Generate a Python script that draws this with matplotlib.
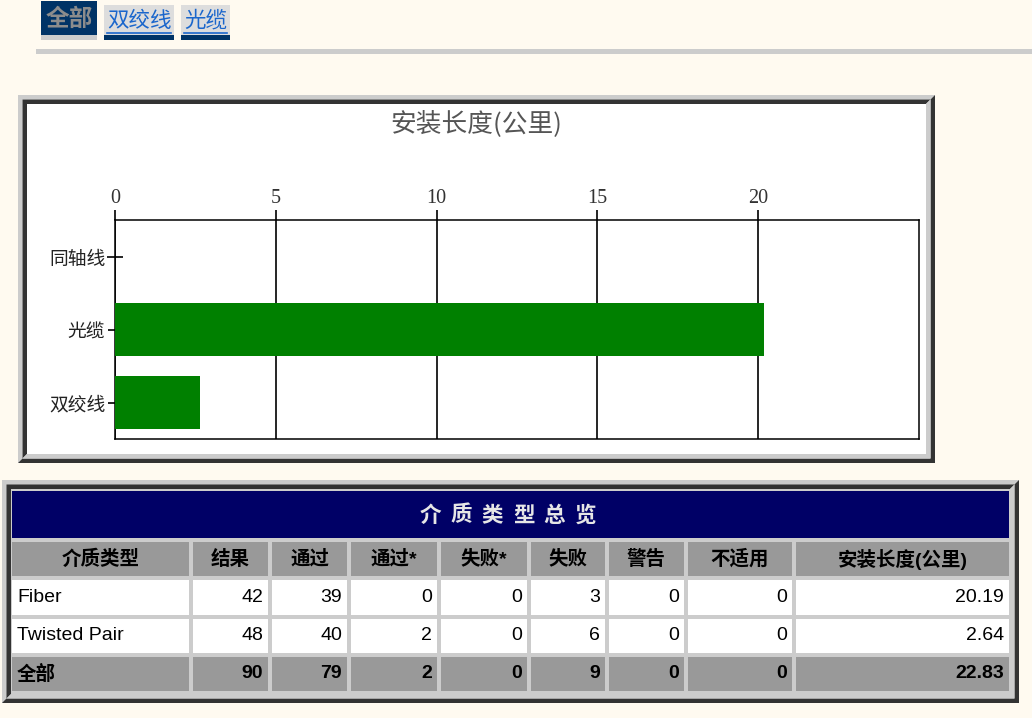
import matplotlib.pyplot as plt
from matplotlib.patches import Rectangle, Polygon

# chart data
chart_labels = ['双绞线', '光缆', '同轴线']
chart_values = [2.64, 20.19, 0.0]
chart_title = '安装长度(公里)'

# table data
table_title = '介质类型总览'
columns = ['介质类型', '结果', '通过', '通过*', '失败*', '失败', '警告', '不适用', '安装长度(公里)']
media = ['Fiber', 'Twisted Pair']
results = [42, 48]
passed = [39, 40]
passed_star = [0, 2]
failed_star = [0, 0]
failed = [3, 6]
warnings = [0, 0]
not_applicable = [0, 0]
lengths = [20.19, 2.64]
total_label = '全部'

tabs = ['全部', '双绞线', '光缆']

BG = '#FFFAF0'
NAVY = '#003366'
LIGHT = '#cccccc'
DARK = '#333333'
CJK = ['Noto Sans CJK SC', 'DejaVu Sans']
LATIN = ['Liberation Sans', 'Noto Sans CJK SC']

plt.rcParams['font.family'] = CJK

W, H = 1032, 718
fig = plt.figure(figsize=(W / 100, H / 100), dpi=100, facecolor=BG)
bg = fig.add_axes([0, 0, 1, 1], zorder=0)
bg.set_xlim(0, W)
bg.set_ylim(H, 0)
bg.axis('off')


def bevel(x0, y0, x1, y1, w, tl, br):
    bg.add_patch(Polygon([(x0, y0), (x1, y0), (x1 - w, y0 + w), (x0 + w, y0 + w),
                          (x0 + w, y1 - w), (x0, y1)], closed=True, fc=tl, ec='none'))
    bg.add_patch(Polygon([(x1, y0), (x1, y1), (x0, y1), (x0 + w, y1 - w),
                          (x1 - w, y1 - w), (x1 - w, y0 + w)], closed=True, fc=br, ec='none'))


def ridge(x0, y0, x1, y1, w, fill):
    h = w / 2
    bg.add_patch(Rectangle((x0, y0), x1 - x0, y1 - y0, fc=fill, ec='none'))
    bevel(x0, y0, x1, y1, h, LIGHT, DARK)
    bevel(x0 + h, y0 + h, x1 - h, y1 - h, h, DARK, LIGHT)


# --- tab bar ---
bg.add_patch(Rectangle((41, 1), 56, 34, fc=NAVY, ec='none'))
bg.add_patch(Rectangle((41, 35), 56, 5, fc=LIGHT, ec='none'))
bg.text(69, 19, tabs[0], ha='center', va='center', fontsize=17,
        fontweight='heavy', color='#8c8c8c')
for (x0, x1), name in zip([(104, 174), (181, 230)], tabs[1:]):
    bg.add_patch(Rectangle((x0, 5), x1 - x0, 30, fc='#dddddd', ec='none'))
    bg.add_patch(Rectangle((x0, 35), x1 - x0, 5, fc=NAVY, ec='none'))
    bg.text((x0 + x1) / 2, 21, name, ha='center', va='center', fontsize=15.5, color='#1a66cc')
    bg.plot([x0 + 3, x1 - 3], [32.5, 32.5], color='#1a66cc', lw=1.2)
bg.add_patch(Rectangle((36, 49), W - 36, 5, fc=LIGHT, ec='none'))

# --- chart panel ---
ridge(18, 95, 935, 463, 9, 'white')
bg.text(476, 124, chart_title, ha='center', va='center', fontsize=18.5, color='#555555')

ax = fig.add_axes([115 / W, 1 - 439 / H, (919 - 115) / W, (439 - 220) / H], zorder=2)
ax.set_facecolor('white')
ax.barh(chart_labels, chart_values, height=0.72, color='#008000', linewidth=0, zorder=3)
ax.set_xlim(0, 25)
ax.set_ylim(-0.5, 2.5)
ax.set_xticks([0, 5, 10, 15, 20])
ax.xaxis.tick_top()
ax.tick_params(axis='x', length=7, width=1.2, pad=1.5, labelsize=14.5,
               labelcolor='#333333', labelfontfamily='Liberation Serif')
ax.tick_params(axis='y', length=5, width=1.2, pad=2, labelsize=13.5, labelcolor='#222222')
# the empty category's tick runs across the axis
empty_tick = ax.yaxis.get_major_ticks()[2]
empty_tick.tick1line.set_marker('_')
empty_tick.tick1line.set_markersize(12)
ax.grid(axis='x', color='black', linewidth=1.2)
ax.set_axisbelow(True)
for sp in ax.spines.values():
    sp.set_linewidth(1.1)

# --- table panel ---
ridge(2, 480, 1019, 703, 9, LIGHT)
bg.add_patch(Rectangle((12, 491), 997, 47, fc='#000066', ec='none'))
for i, ch in enumerate(table_title):
    bg.text(508 + (i - 2.5) * 31, 515, ch, ha='center', va='center', fontsize=15.5,
            fontweight='heavy', color='#e6e6e6')

col_x0 = [12, 193, 272, 351, 441, 531, 609, 688, 796]
col_x1 = [189, 268, 347, 437, 527, 605, 684, 792, 1009]

# header row
for x0, x1, name in zip(col_x0, col_x1, columns):
    bg.add_patch(Rectangle((x0, 542), x1 - x0, 34, fc='#999999', ec='none'))
    bg.text((x0 + x1) / 2, 559, name, ha='center', va='center', fontsize=14,
            fontweight='heavy', color='black', family=LATIN)

rows = []
for i in range(len(media)):
    rows.append([media[i], str(results[i]), str(passed[i]), str(passed_star[i]),
                 str(failed_star[i]), str(failed[i]), str(warnings[i]),
                 str(not_applicable[i]), '%.2f' % lengths[i]])
rows.append([total_label, str(sum(results)), str(sum(passed)), str(sum(passed_star)),
             str(sum(failed_star)), str(sum(failed)), str(sum(warnings)),
             str(sum(not_applicable)), '%.2f' % sum(lengths)])

row_y = [(580, 615), (619, 653), (657, 691)]
for r, (cells, (y0, y1)) in enumerate(zip(rows, row_y)):
    is_total = r == len(rows) - 1
    fill = '#999999' if is_total else 'white'
    weight = 'heavy' if is_total else 'normal'
    for c, (x0, x1, val) in enumerate(zip(col_x0, col_x1, cells)):
        bg.add_patch(Rectangle((x0, y0), x1 - x0, y1 - y0, fc=fill, ec='none'))
        if c == 0:
            bg.text(x0 + 5, (y0 + y1) / 2, val, ha='left', va='center', fontsize=14,
                    fontweight=weight, color='black', family=LATIN)
        else:
            bg.text(x1 - 5, (y0 + y1) / 2, val, ha='right', va='center', fontsize=14,
                    fontweight=weight, color='black', family=LATIN)

fig.savefig('out.png', dpi=100, facecolor=BG)
